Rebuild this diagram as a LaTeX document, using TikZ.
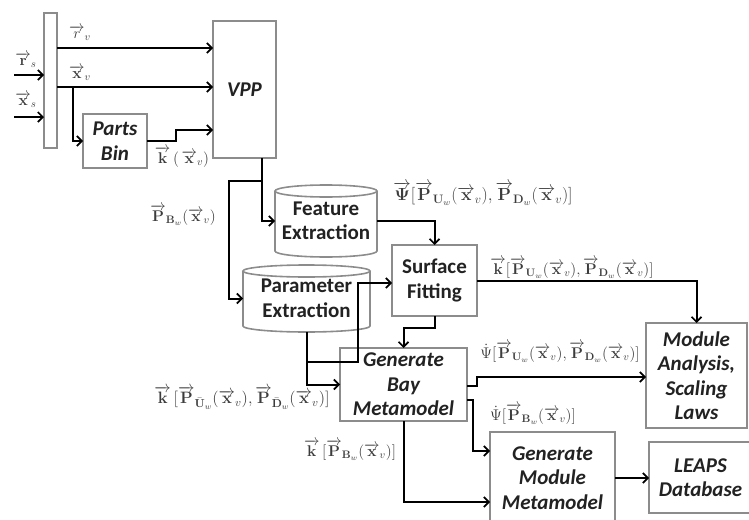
\RequirePackage{fix-cm}
\documentclass[tikz,border=0pt]{standalone}
\usepackage[no-math]{fontspec}
\setmainfont{Carlito}
\usepackage{amsmath}
\usetikzlibrary{arrows.meta,calc}
\definecolor{boxgray}{HTML}{8C8C8C}
\definecolor{labgray}{HTML}{3C3C3C}
\definecolor{txtc}{HTML}{222222}
\newcommand{\vb}[1]{\overrightarrow{\mathbf{#1}}}
\newcommand{\cylout}[2]{%
  \draw[boxline] ($(#1.north west)+(0,6)$) -- ($(#1.south west)+(0,-6)$)
    arc[start angle=180, end angle=360, x radius=#2pt, y radius=6pt]
    -- ($(#1.north east)+(0,6)$);
  \draw[boxline] ($(#1.north)+(0,6)$) ellipse[x radius=#2pt, y radius=6pt];}
\begin{document}
\begin{tikzpicture}[x=1pt,y=-1pt,
  boxline/.style={draw=boxgray, line width=1.6pt},
  box/.style={draw=boxgray, line width=1.6pt, fill=white, inner sep=0pt, outer sep=0pt,
    align=center, font=\fontsize{21}{24.5}\selectfont\bfseries\itshape, text=txtc},
  ubox/.style={box, font=\fontsize{21}{24.5}\selectfont\bfseries},
  cylbox/.style={inner sep=0pt, outer sep=0pt, align=center,
    font=\fontsize{21}{24.5}\selectfont\bfseries, text=txtc},
  arr/.style={line width=2pt, -{Straight Barb[length=5pt,width=10pt,line width=1.7pt]}},
  lab/.style={text=labgray, font=\fontsize{15.5}{18}\selectfont, inner sep=0pt}
]
\useasboundingbox (0,0) rectangle (749,519);

% boxes
\node[box, minimum width=13pt, minimum height=135pt] (bar) at (50.5,80.5) {};
\node[box, minimum width=63pt, minimum height=137pt] (vpp) at (244.5,89.5) {VPP};
\node[box, minimum width=64pt, minimum height=54pt] (pb) at (115,141) {Parts\\Bin};
\node[cylbox, minimum width=102pt, minimum height=72pt] (fe) at (326,221) {Feature\\Extraction};
\cylout{fe}{51}
\node[cylbox, minimum width=127pt, minimum height=67pt] (pe) at (306.5,298.5) {Parameter\\Extraction};
\cylout{pe}{63.5}
\node[ubox, minimum width=85pt, minimum height=71pt] (sf) at (434.5,280.5) {Surface\\Fitting};
\node[box, minimum width=127pt, minimum height=73pt] (gb) at (403.5,384.5) {Generate\\Bay\\Metamodel};
\node[box, minimum width=101pt, minimum height=105pt] (ma) at (696.5,375.5) {Module\\Analysis,\\Scaling\\Laws};
\node[box, minimum width=125pt, minimum height=92pt] (gm) at (552.5,478) {Generate\\Module\\Metamodel};
\node[box, minimum width=103pt, minimum height=71pt] (lp) at (700.5,477.5) {LEAPS\\Database};

% input connectors
\coordinate (rsin) at (14,75);
\coordinate (xsin) at (14,117);
\draw[arr] (rsin) -- (rsin -| bar.west);
\draw[arr] (xsin) -- (xsin -| bar.west);
\coordinate (yrv) at (0,48);
\coordinate (yxv) at (0,87);
\draw[arr] (bar.east |- yrv) -- (vpp.west |- yrv);
\draw[arr] (bar.east |- yxv) -- (vpp.west |- yxv);
\coordinate (j0) at (73,87);
\draw[arr] (j0) |- (pb.west);
\draw[arr] (pb.east) -- ++(29,0) |- ($(vpp.west)+(0,40.5)$);

% VPP outputs
\draw[arr] ($(vpp.south)+(17.5,0)$) |- (fe.west);
\coordinate (j2) at (262,181);
\draw[arr] (j2) -- ++(-33,0) |- (pe.west);

% extraction flows
\draw[arr] (fe.east) -| (sf.north);
\draw[arr] (pe.south) |- (gb.west);
\coordinate (j3) at (306.5,362);
\draw[arr] (j3) -- ++(51.5,0) |- ($(sf.west)+(0,2.5)$);
\draw[arr] (sf.east) -| (ma.north);
\draw[arr] (sf.south) -- ++(0,12) -| (gb.north);

% metamodel flows
\draw[arr] ($(gb.east)+(0,1.5)$) -- ++(10,0) |- ($(ma.west)+(0,1.5)$);
\draw[arr] ($(gb.east)+(0,15.5)$) -- ++(6,0) |- ($(gm.west)+(0,-27)$);
\draw[arr] (gb.south) |- ($(gm.west)+(0,24)$);
\draw[arr] (gm.east) -- (gm.east -| lp.west);

% labels
\node[lab] (lrs) at (26,60) {$\vb{r}_{s}$};
\node[lab] (lxs) at (26,100) {$\vb{x}_{s}$};
\node[lab] (lrv) at (80,33) {$\overrightarrow{r}_{v}$};
\node[lab] (lxv) at (80,73) {$\vb{x}_{v}$};
\node[lab] (lk) at (182,157) {$\vb{k}\,(\,\vb{x}_{v})$};
\node[lab] (lpb) at (183,215) {$\vb{P}_{\mathbf{B}_w}(\vb{x}_{v})$};
\node[lab, font=\fontsize{17.5}{20}\selectfont] (lpsi) at (483,194) {$\overrightarrow{\mathbf{\Psi}}[\vb{P}_{\mathbf{U}_w}(\vb{x}_{v}),\vb{P}_{\mathbf{D}_w}(\vb{x}_{v})]$};
\node[lab] (lk2) at (572,268) {$\vb{k}[\vb{P}_{\mathbf{U}_w}(\vb{x}_{v}),\vb{P}_{\mathbf{D}_w}(\vb{x}_{v})]$};
\node[lab, font=\fontsize{16.5}{19}\selectfont] (lk3) at (242,398) {$\vb{k}\,[\vb{P}_{\bar{\mathbf{U}}_w}(\vb{x}_{v}),\vb{P}_{\bar{\mathbf{D}}_w}(\vb{x}_{v})]$};
\node[lab] (lps2) at (560,352) {$\dot{\Psi}[\vb{P}_{\mathbf{U}_w}(\vb{x}_{v}),\vb{P}_{\mathbf{D}_w}(\vb{x}_{v})]$};
\node[lab] (lps3) at (533,414) {$\dot{\Psi}[\vb{P}_{\mathbf{B}_w}(\vb{x}_{v})]$};
\node[lab] (lk4) at (350,450) {$\vb{k}\,[\vb{P}_{\mathbf{B}_w}(\vb{x}_{v})]$};
\end{tikzpicture}
\end{document}
